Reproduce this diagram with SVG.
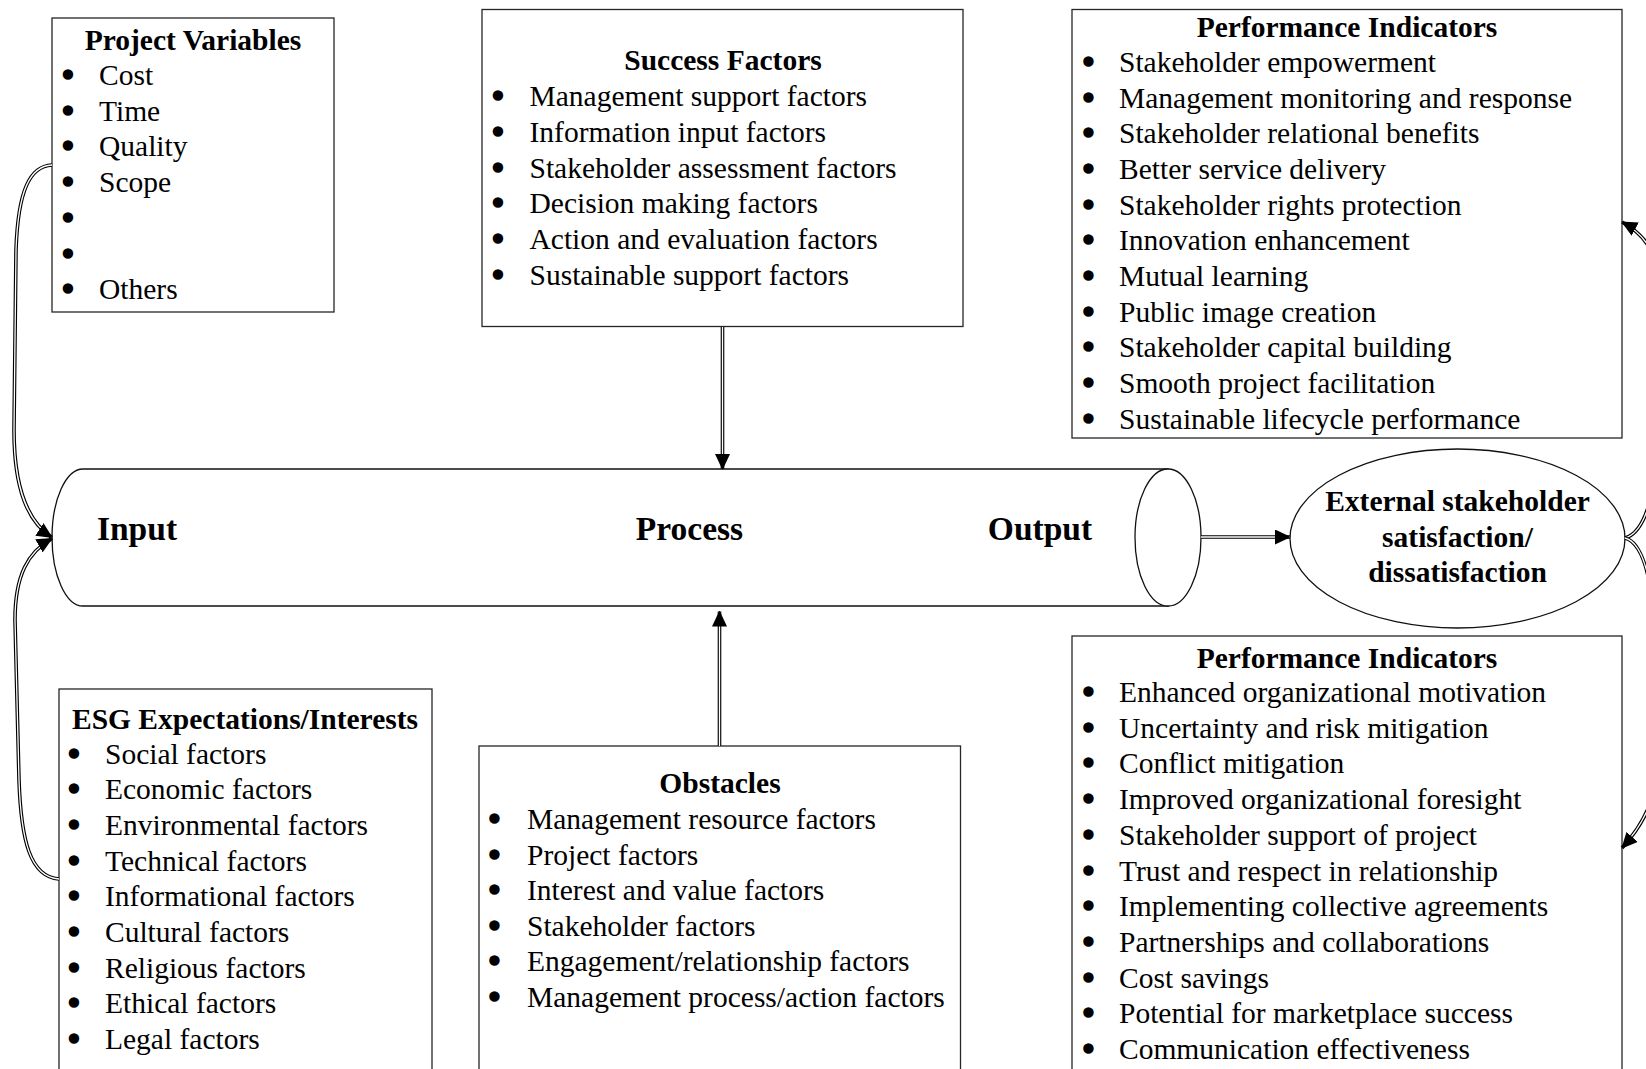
<svg xmlns="http://www.w3.org/2000/svg" width="1646" height="1069" viewBox="0 0 1646 1069">
  <style>
    .box { fill: #fff; stroke: #262626; stroke-width: 1.3; }
    .shape { fill: #fff; stroke: #111; stroke-width: 1.3; }
    text { font-family: "Liberation Serif", "Times New Roman", serif; fill: #000; }
    .t { font-size: 29.5px; font-weight: bold; text-anchor: middle; }
    .i { font-size: 29.5px; }
    .b { font-size: 29.5px; text-anchor: middle; stroke: #000; stroke-width: 3.4; stroke-linejoin: round; }
    .big { font-size: 33.5px; font-weight: bold; text-anchor: middle; }
    .dl-o { fill: none; stroke: #000; stroke-width: 3.6; }
    .dl-i { fill: none; stroke: #fff; stroke-width: 1.3; }
  </style>
  <defs>
    <marker id="ah" viewBox="0 0 16 15" markerWidth="16" markerHeight="15" refX="15" refY="7.5" orient="auto" markerUnits="userSpaceOnUse">
      <path d="M0,0 L16,7.5 L0,15 z" fill="#000"/>
    </marker>
  </defs>

  <!-- Project variables -->
  <g id="project-variables">
    <rect class="box" x="52" y="18" width="282" height="294"/>
    <text class="t" x="193" y="50">Project Variables</text>
    <text class="b" x="68" y="85">•</text>
    <text class="b" x="68" y="120.7">•</text>
    <text class="b" x="68" y="156.4">•</text>
    <text class="b" x="68" y="192.1">•</text>
    <text class="b" x="68" y="227.8">•</text>
    <text class="b" x="68" y="263.5">•</text>
    <text class="b" x="68" y="299.2">•</text>
    <text class="i" x="99" y="85">Cost</text>
    <text class="i" x="99" y="120.7">Time</text>
    <text class="i" x="99" y="156.4">Quality</text>
    <text class="i" x="99" y="192.1">Scope</text>
    <text class="i" x="99" y="299.2">Others</text>
  </g>

  <!-- Success factors -->
  <g id="success-factors">
    <rect class="box" x="482" y="9.5" width="481" height="317"/>
    <text class="t" x="723" y="70">Success Factors</text>
    <text class="b" x="498" y="106">•</text>
    <text class="b" x="498" y="141.8">•</text>
    <text class="b" x="498" y="177.6">•</text>
    <text class="b" x="498" y="213.4">•</text>
    <text class="b" x="498" y="249.2">•</text>
    <text class="b" x="498" y="285">•</text>
    <text class="i" x="529.5" y="106">Management support factors</text>
    <text class="i" x="529.5" y="141.8">Information input factors</text>
    <text class="i" x="529.5" y="177.6">Stakeholder assessment factors</text>
    <text class="i" x="529.5" y="213.4">Decision making factors</text>
    <text class="i" x="529.5" y="249.2">Action and evaluation factors</text>
    <text class="i" x="529.5" y="285">Sustainable support factors</text>
  </g>

  <!-- Performance indicators (upper) -->
  <g id="performance-indicators-upper">
    <rect class="box" x="1072" y="9.5" width="550" height="428.5"/>
    <text class="t" x="1347" y="36.5">Performance Indicators</text>
    <text class="b" x="1088.5" y="72">•</text>
    <text class="b" x="1088.5" y="107.7">•</text>
    <text class="b" x="1088.5" y="143.3">•</text>
    <text class="b" x="1088.5" y="179">•</text>
    <text class="b" x="1088.5" y="214.6">•</text>
    <text class="b" x="1088.5" y="250.3">•</text>
    <text class="b" x="1088.5" y="285.9">•</text>
    <text class="b" x="1088.5" y="321.6">•</text>
    <text class="b" x="1088.5" y="357.2">•</text>
    <text class="b" x="1088.5" y="392.9">•</text>
    <text class="b" x="1088.5" y="428.5">•</text>
    <text class="i" x="1119" y="72">Stakeholder empowerment</text>
    <text class="i" x="1119" y="107.7">Management monitoring and response</text>
    <text class="i" x="1119" y="143.3">Stakeholder relational benefits</text>
    <text class="i" x="1119" y="179">Better service delivery</text>
    <text class="i" x="1119" y="214.6">Stakeholder rights protection</text>
    <text class="i" x="1119" y="250.3">Innovation enhancement</text>
    <text class="i" x="1119" y="285.9">Mutual learning</text>
    <text class="i" x="1119" y="321.6">Public image creation</text>
    <text class="i" x="1119" y="357.2">Stakeholder capital building</text>
    <text class="i" x="1119" y="392.9">Smooth project facilitation</text>
    <text class="i" x="1119" y="428.5">Sustainable lifecycle performance</text>
  </g>

  <!-- Input / process / output pipe -->
  <g id="pipeline">
    <path class="shape" d="M1168,469 L83,469 A31,68.5 0 0 0 83,606 L1168,606 Z"/>
    <ellipse class="shape" cx="1168" cy="537.5" rx="33" ry="68.5"/>
    <text class="big" x="137" y="540">Input</text>
    <text class="big" x="689.5" y="540">Process</text>
    <text class="big" x="1040" y="540">Output</text>
  </g>

  <!-- Stakeholder satisfaction -->
  <g id="satisfaction">
    <ellipse class="shape" cx="1457.5" cy="538.5" rx="167.5" ry="89.5"/>
    <text class="t" x="1457.5" y="511">External stakeholder</text>
    <text class="t" x="1457.5" y="546.7">satisfaction/</text>
    <text class="t" x="1457.5" y="582.4">dissatisfaction</text>
  </g>

  <!-- ESG expectations -->
  <g id="esg-expectations">
    <rect class="box" x="59" y="689" width="373" height="400"/>
    <text class="t" x="245" y="728.5">ESG Expectations/Interests</text>
    <text class="b" x="74" y="763.5">•</text>
    <text class="b" x="74" y="799.2">•</text>
    <text class="b" x="74" y="834.9">•</text>
    <text class="b" x="74" y="870.6">•</text>
    <text class="b" x="74" y="906.3">•</text>
    <text class="b" x="74" y="942">•</text>
    <text class="b" x="74" y="977.7">•</text>
    <text class="b" x="74" y="1013.4">•</text>
    <text class="b" x="74" y="1049.1">•</text>
    <text class="i" x="105" y="763.5">Social factors</text>
    <text class="i" x="105" y="799.2">Economic factors</text>
    <text class="i" x="105" y="834.9">Environmental factors</text>
    <text class="i" x="105" y="870.6">Technical factors</text>
    <text class="i" x="105" y="906.3">Informational factors</text>
    <text class="i" x="105" y="942">Cultural factors</text>
    <text class="i" x="105" y="977.7">Religious factors</text>
    <text class="i" x="105" y="1013.4">Ethical factors</text>
    <text class="i" x="105" y="1049.1">Legal factors</text>
  </g>

  <!-- Obstacles -->
  <g id="obstacles">
    <rect class="box" x="479" y="746" width="481.5" height="343"/>
    <text class="t" x="720" y="793.3">Obstacles</text>
    <text class="b" x="494.5" y="829">•</text>
    <text class="b" x="494.5" y="864.5">•</text>
    <text class="b" x="494.5" y="900">•</text>
    <text class="b" x="494.5" y="935.5">•</text>
    <text class="b" x="494.5" y="971">•</text>
    <text class="b" x="494.5" y="1006.5">•</text>
    <text class="i" x="527" y="829">Management resource factors</text>
    <text class="i" x="527" y="864.5">Project factors</text>
    <text class="i" x="527" y="900">Interest and value factors</text>
    <text class="i" x="527" y="935.5">Stakeholder factors</text>
    <text class="i" x="527" y="971">Engagement/relationship factors</text>
    <text class="i" x="527" y="1006.5">Management process/action factors</text>
  </g>

  <!-- Performance indicators (lower) -->
  <g id="performance-indicators-lower">
    <rect class="box" x="1072" y="636" width="550" height="453"/>
    <text class="t" x="1347" y="667.5">Performance Indicators</text>
    <text class="b" x="1088.5" y="702">•</text>
    <text class="b" x="1088.5" y="737.7">•</text>
    <text class="b" x="1088.5" y="773.4">•</text>
    <text class="b" x="1088.5" y="809.1">•</text>
    <text class="b" x="1088.5" y="844.8">•</text>
    <text class="b" x="1088.5" y="880.5">•</text>
    <text class="b" x="1088.5" y="916.2">•</text>
    <text class="b" x="1088.5" y="951.9">•</text>
    <text class="b" x="1088.5" y="987.6">•</text>
    <text class="b" x="1088.5" y="1023.3">•</text>
    <text class="b" x="1088.5" y="1059">•</text>
    <text class="i" x="1119" y="702">Enhanced organizational motivation</text>
    <text class="i" x="1119" y="737.7">Uncertainty and risk mitigation</text>
    <text class="i" x="1119" y="773.4">Conflict mitigation</text>
    <text class="i" x="1119" y="809.1">Improved organizational foresight</text>
    <text class="i" x="1119" y="844.8">Stakeholder support of project</text>
    <text class="i" x="1119" y="880.5">Trust and respect in relationship</text>
    <text class="i" x="1119" y="916.2">Implementing collective agreements</text>
    <text class="i" x="1119" y="951.9">Partnerships and collaborations</text>
    <text class="i" x="1119" y="987.6">Cost savings</text>
    <text class="i" x="1119" y="1023.3">Potential for marketplace success</text>
    <text class="i" x="1119" y="1059">Communication effectiveness</text>
  </g>

  <!-- Connectors: double lines (dark outer stroke, light core), arrowhead on the core -->
  <g id="connectors">
    <path id="c-pv" class="dl-o" d="M52,165 C30,166 18,190 16,250 L14,430 C14,490 28,522 52,537.5"/>
    <path class="dl-i" d="M52,165 C30,166 18,190 16,250 L14,430 C14,490 28,522 52,537.5" marker-end="url(#ah)"/>

    <path id="c-esg" class="dl-o" d="M59,879 C30,877 21,840 19,780 L15,620 C15,575 28,552 52,538.5"/>
    <path class="dl-i" d="M59,879 C30,877 21,840 19,780 L15,620 C15,575 28,552 52,538.5" marker-end="url(#ah)"/>

    <path id="c-sf" class="dl-o" d="M722.5,327 L722.5,469"/>
    <path class="dl-i" d="M722.5,327 L722.5,469" marker-end="url(#ah)"/>

    <path id="c-ob" class="dl-o" d="M719.5,746 L719.5,611.5"/>
    <path class="dl-i" d="M719.5,746 L719.5,611.5" marker-end="url(#ah)"/>

    <path id="c-out" class="dl-o" d="M1201,537 L1290,537"/>
    <path class="dl-i" d="M1201,537 L1290,537" marker-end="url(#ah)"/>

    <path id="c-up" class="dl-o" d="M1625,538 C1648,532 1660,480 1660,400 L1660,290 C1660,258 1648,236 1622,222"/>
    <path class="dl-i" d="M1625,538 C1648,532 1660,480 1660,400 L1660,290 C1660,258 1648,236 1622,222" marker-end="url(#ah)"/>

    <path id="c-down" class="dl-o" d="M1625,538 C1648,544 1656,600 1656,680 L1656,770 C1656,800 1642,826 1622,848"/>
    <path class="dl-i" d="M1625,538 C1648,544 1656,600 1656,680 L1656,770 C1656,800 1642,826 1622,848" marker-end="url(#ah)"/>
  </g>
</svg>
